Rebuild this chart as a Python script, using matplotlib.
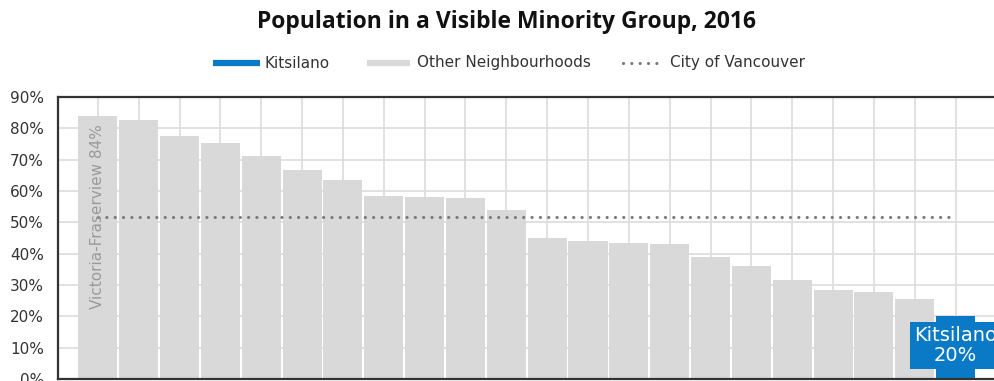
import matplotlib
matplotlib.use("Agg")
import matplotlib.pyplot as plt
from matplotlib.lines import Line2D

plt.rcParams['font.family'] = ['DejaVu Sans']

# Share of residents in a visible minority group, by local area (sorted)
neighbourhoods = [
    "Victoria-Fraserview", "N1", "N2", "N3", "N4", "N5", "N6", "N7", "N8", "N9",
    "N10", "N11", "N12", "N13", "N14", "N15", "N16", "N17", "N18", "N19", "N20",
    "Kitsilano",
]
share_pct = [84.0, 82.6, 77.7, 75.3, 71.3, 66.6, 63.4, 58.5, 58.2, 57.9,
             54.0, 44.9, 43.9, 43.5, 43.0, 38.8, 36.0, 31.7, 28.5, 27.8, 25.6,
             20.0]
city_avg = 51.6
y_ticks = [0, 10, 20, 30, 40, 50, 60, 70, 80, 90]
highlight = "Kitsilano"

BLUE = "#0a7ac6"
GREY_BAR = "#d9d9d9"
GRID = "#dedede"
DARK = "#333333"

W, H = 994, 381
fig = plt.figure(figsize=(W / 100, H / 100), dpi=100)

# axes box in pixel terms
left_px, top_px, bottom_px = 58, 97, 379
pitch = 40.85
x0 = -(97.8 - left_px) / pitch
x1 = 22.5
width_px = (x1 - x0) * pitch
ax = fig.add_axes([left_px / W, (H - bottom_px) / H,
                   width_px / W, (bottom_px - top_px) / H])

xs = list(range(len(share_pct)))
colors = [BLUE if n == highlight else GREY_BAR for n in neighbourhoods]
ax.bar(xs, share_pct, width=0.955, color=colors, zorder=2, linewidth=0)

ax.hlines(city_avg, xs[0], xs[-1], colors="#7a7a7a", linewidth=2.3,
          linestyles=(0, (0.01, 2.6)), capstyle="round", zorder=3)

ax.set_xlim(x0, x1)
ax.set_ylim(0, 90)
ax.set_yticks(y_ticks)
ax.set_yticklabels([f"{v}%" for v in y_ticks], fontsize=11, color=DARK)
ax.set_xticks(range(0, 23))
ax.set_xticklabels([])
ax.tick_params(axis="both", length=0)
ax.tick_params(axis="y", pad=10)
ax.grid(True, color=GRID, linewidth=1.3, zorder=0)
ax.set_axisbelow(True)
for side in ("left", "top", "bottom"):
    ax.spines[side].set_color(DARK)
    ax.spines[side].set_linewidth(1.6)
ax.spines["right"].set_visible(False)

# label on the top bar
top_i = 0
ax.text(xs[top_i], 81.2, f"{neighbourhoods[top_i]} {share_pct[top_i]:.0f}%",
        rotation=90, ha="center", va="top", fontsize=11, color="#9a9a9a",
        zorder=4)

# callout for the highlighted neighbourhood
hi = neighbourhoods.index(highlight)
ax.text(xs[hi], 10.6, f"{highlight}\n{share_pct[hi]:.0f}%", ha="center",
        va="center", fontsize=14, color="white", linespacing=1.05,
        bbox=dict(boxstyle="square,pad=0.22", facecolor=BLUE, edgecolor="none"),
        zorder=5)

# title
fig.text(507 / W, 1 - 22 / H, "Population in a Visible Minority Group, 2016",
         ha="center", va="center", fontsize=16.5, fontweight="bold",
         color="#111111", family=["Open Sans", "DejaVu Sans"])

# legend row
ly = 1 - 63 / H
fig.add_artist(Line2D([213 / W, 260 / W], [ly, ly], color=BLUE, linewidth=4.5,
                      solid_capstyle="butt", transform=fig.transFigure))
fig.text(265 / W, ly, "Kitsilano", ha="left", va="center", fontsize=11,
         color=DARK)
fig.add_artist(Line2D([367 / W, 410 / W], [ly, ly], color=GREY_BAR,
                      linewidth=4.5, solid_capstyle="butt",
                      transform=fig.transFigure))
fig.text(417 / W, ly, "Other Neighbourhoods", ha="left", va="center",
         fontsize=11, color=DARK)
fig.add_artist(Line2D([623 / W, 662 / W], [ly, ly], color="#7a7a7a",
                      linewidth=2.3, linestyle=(0, (0.01, 2.6)),
                      dash_capstyle="round", transform=fig.transFigure))
fig.text(670 / W, ly, "City of Vancouver", ha="left", va="center",
         fontsize=11, color=DARK)

fig.savefig("out.png", dpi=100)
